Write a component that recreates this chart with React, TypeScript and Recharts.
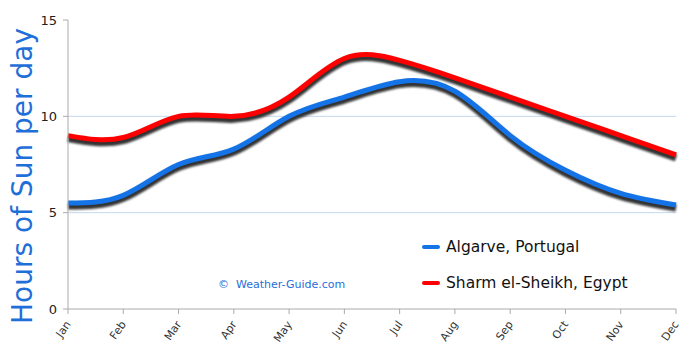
import React from 'react';
import { LineChart, Line, XAxis, YAxis, CartesianGrid } from 'recharts';

const months = ['Jan', 'Feb', 'Mar', 'Apr', 'May', 'Jun', 'Jul', 'Aug', 'Sep', 'Oct', 'Nov', 'Dec'];
const algarve = [5.5, 5.9, 7.5, 8.3, 10, 11, 11.8, 11.3, 9, 7.2, 6, 5.4];
const sharm = [9, 8.9, 10, 10, 11, 13, 12.9, 12, 11, 10, 9, 8];
const yTicks = [0, 5, 10, 15];

const data = months.map((m, i) => ({ month: m, algarve: algarve[i], sharm: sharm[i] }));

const BLUE = '#1473e6';
const RED = '#ff0000';
const SHADOW = '#333';

const shadowStyle = { transform: 'translate(0px, 3px)', filter: 'blur(1.2px)' };

const MonthTick = (props: any) => {
    const { x, y, payload } = props;
    return (
        <g transform={`translate(${x},${y + 6})`}>
            <text
                textAnchor="end"
                transform="rotate(-55)"
                fontSize={11}
                fill="#333"
                fontFamily="DejaVu Sans"
                dy={4}
            >
                {payload.value}
            </text>
        </g>
    );
};

export default function App() {
    return (
        <div style={{ position: 'absolute', left: 0, top: 0, width: 690, height: 353, background: '#fff' }}>
            <LineChart
                width={690}
                height={353}
                data={data}
                margin={{ top: 20, right: 14, bottom: 0, left: 18 }}
            >
                <CartesianGrid horizontal vertical={false} stroke="#c4d8f0" horizontalValues={[5, 10]} />
                <XAxis
                    dataKey="month"
                    height={44}
                    stroke="#aaa"
                    tickSize={5}
                    tick={<MonthTick />}
                    interval={0}
                />
                <YAxis
                    width={50}
                    domain={[0, 15]}
                    ticks={yTicks}
                    stroke="#aaa"
                    tickSize={5}
                    tickMargin={6}
                    tick={{ fill: '#222', fontSize: 13, fontFamily: 'DejaVu Sans' }}
                />
                <Line
                    dataKey="algarve"
                    type="natural"
                    stroke={SHADOW}
                    strokeWidth={7}
                    dot={false}
                    style={shadowStyle}
                    legendType="none"
                    isAnimationActive={false}
                />
                <Line
                    dataKey="sharm"
                    type="natural"
                    stroke={SHADOW}
                    strokeWidth={7}
                    dot={false}
                    style={shadowStyle}
                    legendType="none"
                    isAnimationActive={false}
                />
                <Line
                    dataKey="algarve"
                    type="natural"
                    stroke={BLUE}
                    strokeWidth={5}
                    dot={false}
                    isAnimationActive={false}
                />
                <Line
                    dataKey="sharm"
                    type="natural"
                    stroke={RED}
                    strokeWidth={5}
                    dot={false}
                    isAnimationActive={false}
                />
            </LineChart>

            {/* y axis title */}
            <div
                style={{
                    position: 'absolute',
                    left: 22,
                    top: 176,
                    transform: 'translate(-50%, -50%) rotate(-90deg)',
                    whiteSpace: 'nowrap',
                    fontFamily: 'DejaVu Sans',
                    fontSize: 28,
                    color: '#1f6fd8',
                }}
            >
                Hours of Sun per day
            </div>

            {/* legend */}
            <div style={{ position: 'absolute', left: 422, top: 229, fontFamily: 'DejaVu Sans', fontSize: 15.5, color: '#111' }}>
                {[
                    { name: 'Algarve, Portugal', color: BLUE },
                    { name: 'Sharm el-Sheikh, Egypt', color: RED },
                ].map((s) => (
                    <div key={s.name} style={{ display: 'flex', alignItems: 'center', height: 36 }}>
                        <span style={{ width: 18, height: 4, background: s.color, marginRight: 6, borderRadius: 2 }} />
                        <span>{s.name}</span>
                    </div>
                ))}
            </div>

            {/* watermark */}
            <div
                style={{
                    position: 'absolute',
                    left: 218,
                    top: 278,
                    fontFamily: 'DejaVu Sans',
                    fontSize: 11,
                    color: '#1f6fd8',
                    whiteSpace: 'nowrap',
                }}
            >
                ©&nbsp; Weather-Guide.com
            </div>
        </div>
    );
}
